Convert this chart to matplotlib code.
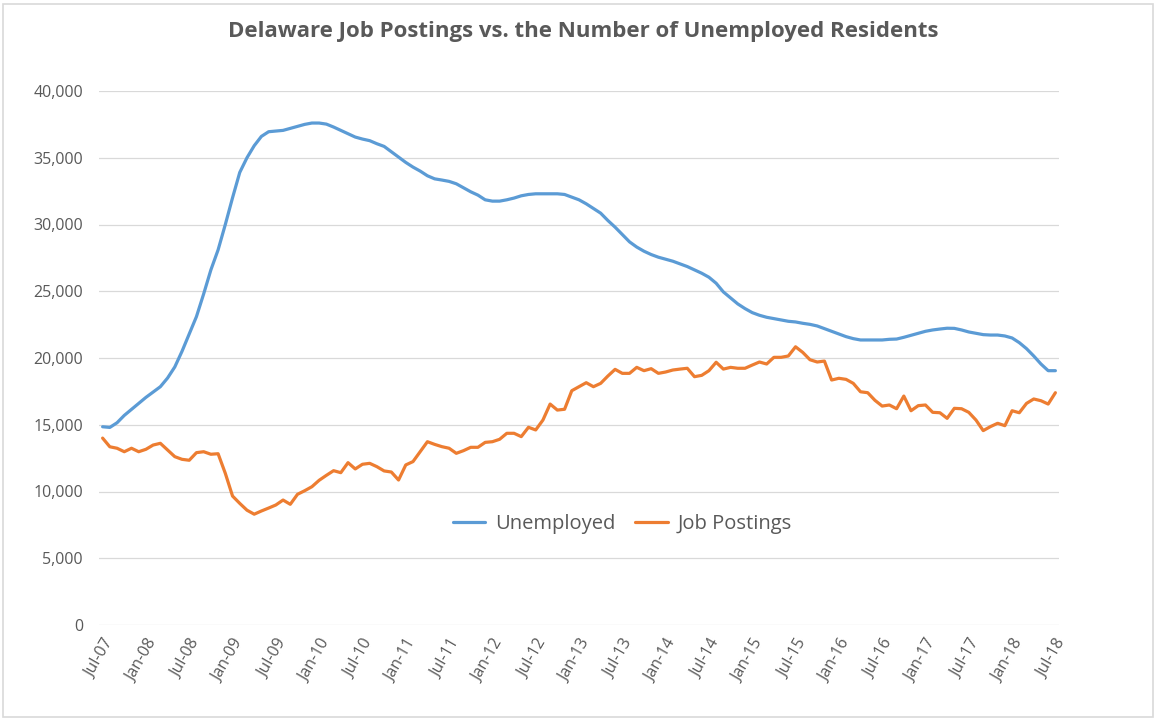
import matplotlib
matplotlib.use("Agg")
import matplotlib.pyplot as plt
from matplotlib.patches import Rectangle

# ---- data (monthly, Jul-2007 .. Jul-2018) ----
unemployed = [
    14850, 14800, 15150, 15700, 16150, 16600, 17050, 17450, 17850, 18500,
    19330, 20500, 21800, 23100, 24800, 26600, 28100, 30000, 32000, 33900,
    35000, 35900, 36600, 36950, 37000, 37050, 37200, 37350, 37500, 37600,
    37600, 37520, 37300, 37050, 36800, 36550, 36400, 36280, 36050, 35850,
    35450, 35050, 34650, 34300, 34000, 33650, 33420, 33330, 33230, 33050,
    32750, 32450, 32200, 31850, 31750, 31750, 31850, 31980, 32150, 32250,
    32300, 32300, 32300, 32300, 32250, 32050, 31850, 31550, 31200, 30850,
    30300, 29800, 29250, 28700, 28310, 28000, 27750, 27550, 27400, 27250,
    27050, 26850, 26600, 26350, 26050, 25600, 24950, 24500, 24050, 23700,
    23400, 23200, 23050, 22950, 22850, 22750, 22700, 22600, 22520, 22400,
    22200, 22000, 21800, 21600, 21450, 21350, 21350, 21350, 21350, 21400,
    21420, 21550, 21700, 21850, 22000, 22100, 22170, 22230, 22220, 22100,
    21950, 21850, 21750, 21720, 21720, 21650, 21500, 21150, 20700, 20150,
    19550, 19050, 19050,
]
job_postings = [
    14000, 13350, 13240, 12980, 13240, 12980, 13160, 13480, 13610, 13110,
    12610, 12410, 12340, 12910, 12980, 12790, 12830, 11360, 9660, 9110,
    8600, 8300, 8540, 8760, 8990, 9360, 9040, 9790, 10060, 10360,
    10840, 11210, 11560, 11410, 12160, 11690, 12040, 12110, 11860, 11540,
    11460, 10860, 11990, 12240, 12980, 13730, 13530, 13360, 13240, 12860,
    13060, 13310, 13310, 13680, 13730, 13910, 14360, 14360, 14110, 14810,
    14610, 15350, 16550, 16100, 16160, 17550, 17850, 18150, 17850, 18100,
    18650, 19150, 18850, 18850, 19300, 19050, 19200, 18850, 18950, 19100,
    19170, 19230, 18600, 18700, 19050, 19680, 19170, 19300, 19230, 19230,
    19470, 19700, 19550, 20050, 20050, 20150, 20840, 20420, 19870, 19700,
    19770, 18350, 18480, 18400, 18100, 17470, 17400, 16830, 16400, 16480,
    16200, 17150, 16050, 16430, 16480, 15930, 15900, 15480, 16230, 16200,
    15930, 15350, 14560, 14860, 15110, 14930, 16050, 15900, 16600, 16930,
    16800, 16550, 17400,
]
tick_labels = ["Jul-07", "Jan-08", "Jul-08", "Jan-09", "Jul-09", "Jan-10", "Jul-10",
               "Jan-11", "Jul-11", "Jan-12", "Jul-12", "Jan-13", "Jul-13", "Jan-14",
               "Jul-14", "Jan-15", "Jul-15", "Jan-16", "Jul-16", "Jan-17", "Jul-17",
               "Jan-18", "Jul-18"]
y_ticks = [0, 5000, 10000, 15000, 20000, 25000, 30000, 35000, 40000]

title = "Delaware Job Postings vs. the Number of Unemployed Residents"
series_names = ["Unemployed", "Job Postings"]
colors = ["#5B9BD5", "#ED7D31"]
text_color = "#595959"
grid_color = "#D9D9D9"

plt.rcParams["font.family"] = ["Open Sans", "DejaVu Sans"]

fig = plt.figure(figsize=(11.59, 7.21), dpi=100)
fig.patch.set_facecolor("white")
ax = fig.add_axes([99 / 1159, 1 - 625 / 721, 960 / 1159, 534 / 721])

x = list(range(len(unemployed)))
ax.plot(x, unemployed, color=colors[0], lw=2.3, label=series_names[0],
        solid_joinstyle="round", solid_capstyle="round")
ax.plot(x, job_postings, color=colors[1], lw=2.3, label=series_names[1],
        solid_joinstyle="round", solid_capstyle="round")

ax.set_xlim(-0.5, len(unemployed) - 0.5)
ax.set_ylim(0, 40000)
ax.set_yticks(y_ticks)
ax.set_yticklabels([f"{v:,}" for v in y_ticks])
ax.set_xticks(list(range(0, len(unemployed), 6)))
ax.set_xticklabels(tick_labels, rotation=60, ha="right", rotation_mode="anchor")
ax.tick_params(axis="both", length=0, colors=text_color, labelsize=11.5)
ax.tick_params(axis="y", pad=11.5)
ax.tick_params(axis="x", pad=8)
ax.grid(axis="y", color=grid_color, lw=0.9)
ax.set_axisbelow(True)
for s in ax.spines.values():
    s.set_visible(False)

leg = ax.legend(loc="center", bbox_to_anchor=(0.545, 0.189), ncol=2, frameon=False,
                fontsize=14.5, handlelength=1.6, columnspacing=1.0, handletextpad=0.5)
for t in leg.get_texts():
    t.set_color(text_color)

fig.text(583 / 1159, 1 - 31 / 721, title, ha="center", va="center",
         fontsize=16, fontweight="bold", color=text_color)

fig.patches.append(Rectangle((3 / 1159, 4 / 721), 1150 / 1159, 713 / 721,
                             transform=fig.transFigure, fill=False,
                             edgecolor=grid_color, lw=1.2))

fig.savefig("out.png", dpi=100, facecolor="white")
